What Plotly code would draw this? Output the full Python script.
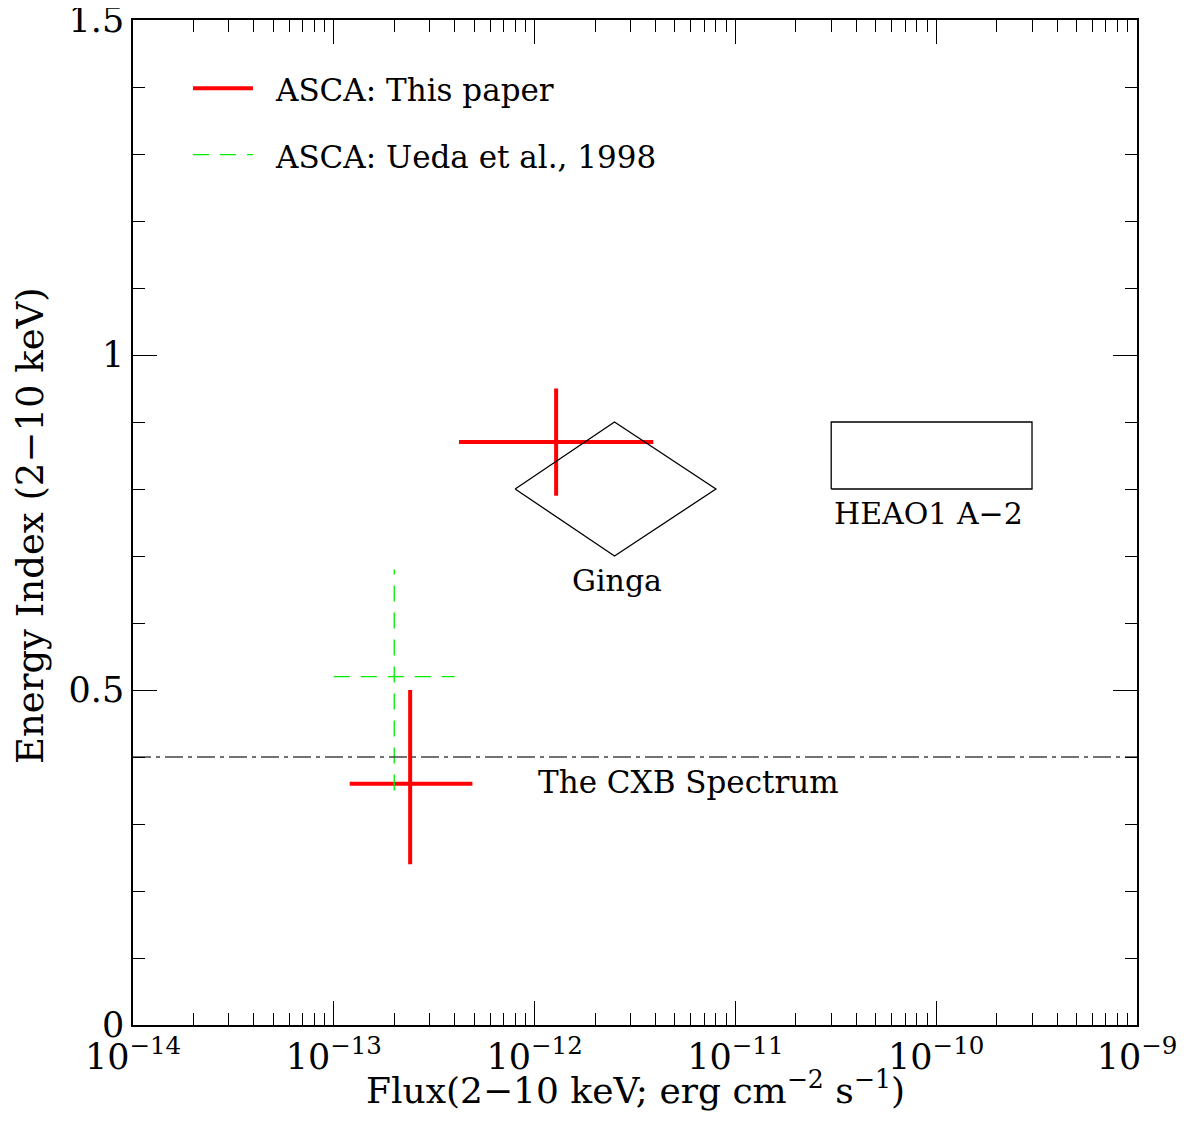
import plotly.graph_objects as go

# ---- data ----
asca_flux = [1.28e-12, 2.4e-13]
asca_flux_lo = [4.2e-13, 1.2e-13]
asca_flux_hi = [3.9e-12, 4.9e-13]
asca_index = [0.87, 0.36]
asca_index_lo = [0.79, 0.24]
asca_index_hi = [0.95, 0.50]

ueda_flux = [2.0e-13]
ueda_flux_lo = [1.0e-13]
ueda_flux_hi = [4.0e-13]
ueda_index = [0.52]
ueda_index_lo = [0.35]
ueda_index_hi = [0.68]

ginga_flux = [8e-13, 2.5e-12, 8e-12, 2.5e-12, 8e-13]
ginga_index = [0.8, 0.9, 0.8, 0.7, 0.8]

heao_flux = [3e-11, 3e-10, 3e-10, 3e-11, 3e-11]
heao_index = [0.8, 0.8, 0.9, 0.9, 0.8]

cxb_index = 0.4

x_tickvals = [1e-14, 1e-13, 1e-12, 1e-11, 1e-10, 1e-9]
x_ticktext = ["10<sup>\u221214</sup>", "10<sup>\u221213</sup>", "10<sup>\u221212</sup>",
              "10<sup>\u221211</sup>", "10<sup>\u221210</sup>", "10<sup>\u22129</sup>"]
y_tickvals = [0, 0.5, 1, 1.5]
y_ticktext = ["0", "0.5", "1", "1.5"]

FONT = "DejaVu Serif"
x_minor = [m * 10.0 ** e for e in range(-14, -9) for m in range(2, 10)]

fig = go.Figure()

# ASCA: this paper (red crosses)
for i in range(len(asca_flux)):
    fig.add_trace(go.Scatter(x=[asca_flux_lo[i], asca_flux_hi[i]], y=[asca_index[i], asca_index[i]],
                             mode="lines", line=dict(color="#ff0000", width=4), showlegend=False))
    fig.add_trace(go.Scatter(x=[asca_flux[i], asca_flux[i]], y=[asca_index_lo[i], asca_index_hi[i]],
                             mode="lines", line=dict(color="#ff0000", width=4), showlegend=False))

# Ueda et al. (green dashed cross)
for i in range(len(ueda_flux)):
    fig.add_trace(go.Scatter(x=[ueda_flux_lo[i], ueda_flux_hi[i]], y=[ueda_index[i], ueda_index[i]],
                             mode="lines", line=dict(color="#00ee00", width=1.3, dash="16px,11px"),
                             showlegend=False))
    fig.add_trace(go.Scatter(x=[ueda_flux[i], ueda_flux[i]], y=[ueda_index_lo[i], ueda_index_hi[i]],
                             mode="lines", line=dict(color="#00ee00", width=1.3, dash="16px,11px"),
                             showlegend=False))

# Ginga diamond
fig.add_trace(go.Scatter(x=ginga_flux, y=ginga_index, mode="lines",
                         line=dict(color="black", width=1.3), showlegend=False))
# HEAO1 A-2 box
fig.add_trace(go.Scatter(x=heao_flux, y=heao_index, mode="lines",
                         line=dict(color="black", width=1.3), showlegend=False))

# CXB line
fig.add_trace(go.Scatter(x=[1e-14, 1e-9], y=[cxb_index, cxb_index], mode="lines",
                         line=dict(color="#444444", width=1.5, dash="18px,5px,4px,5px"),
                         showlegend=False))

axis_common = dict(showline=True, linecolor="black", linewidth=1.5, ticks="inside",
                   tickcolor="black", tickwidth=1.2, ticklen=24, showgrid=False, zeroline=False,
                   automargin=False)

fig.update_layout(
    width=1171, height=1105,
    margin=dict(l=125, r=42, t=12, b=88),
    paper_bgcolor="white", plot_bgcolor="white",
    font=dict(family=FONT, color="black"),
    xaxis=dict(type="log", range=[-14, -9], tickmode="array", tickvals=x_tickvals, ticktext=x_ticktext,
               tickfont=dict(size=35, family=FONT), ticklabeloverflow="allow",
               minor=dict(tickmode="array", tickvals=x_minor, ticks="inside", ticklen=12,
                          tickcolor="black", tickwidth=1.2, showgrid=False),
               **axis_common),
    xaxis2=dict(type="log", range=[-14, -9], overlaying="x", side="top", tickmode="array",
                tickvals=x_tickvals, showticklabels=False,
                minor=dict(tickmode="array", tickvals=x_minor, ticks="inside", ticklen=12,
                           tickcolor="black", tickwidth=1.2, showgrid=False),
                **axis_common),
    yaxis=dict(range=[0, 1.5], tickmode="array", tickvals=y_tickvals, ticktext=y_ticktext,
               tickfont=dict(size=35, family=FONT), ticklabeloverflow="allow",
               minor=dict(dtick=0.1, tick0=0, ticks="inside", ticklen=12, tickcolor="black",
                          tickwidth=1.2, showgrid=False),
               **axis_common),
    yaxis2=dict(range=[0, 1.5], overlaying="y", side="right", tickmode="array", tickvals=y_tickvals,
                showticklabels=False,
                minor=dict(dtick=0.1, tick0=0, ticks="inside", ticklen=12, tickcolor="black",
                           tickwidth=1.2, showgrid=False),
                **axis_common),
)

# dummy trace to activate secondary axes
fig.add_trace(go.Scatter(x=[1e-14], y=[0], xaxis="x2", yaxis="y2", mode="markers",
                         marker=dict(opacity=0), showlegend=False, hoverinfo="skip"))

# Axis titles
fig.add_annotation(xref="paper", yref="paper", x=0.5, y=-0.063,
                   text="Flux(2\u221210 keV; erg cm<sup>\u22122</sup> s<sup>\u22121</sup>)",
                   showarrow=False, xanchor="center", yanchor="middle", font=dict(size=36, family=FONT))
fig.add_annotation(xref="paper", yref="paper", x=-0.1026, y=0.4975, text="Energy Index (2\u221210 keV)",
                   textangle=-90, showarrow=False, xanchor="center", yanchor="middle",
                   font=dict(size=37, family=FONT))

# Legend (drawn manually)
fig.add_shape(type="line", xref="paper", yref="paper", x0=0.0598, x1=0.1195, y0=0.932, y1=0.932,
              line=dict(color="#ff0000", width=4))
fig.add_shape(type="line", xref="paper", yref="paper", x0=0.0598, x1=0.1195, y0=0.866, y1=0.866,
              line=dict(color="#00ee00", width=1.3, dash="16px,11px"))
fig.add_annotation(xref="paper", yref="paper", x=0.139, y=0.930, text="ASCA: This paper",
                   showarrow=False, xanchor="left", yanchor="middle", font=dict(size=31, family=FONT))
fig.add_annotation(xref="paper", yref="paper", x=0.139, y=0.864, text="ASCA: Ueda et al., 1998",
                   showarrow=False, xanchor="left", yanchor="middle", font=dict(size=31, family=FONT))

# Labels
fig.add_annotation(x=-11.59, y=0.663, text="Ginga", showarrow=False, xanchor="center", yanchor="middle",
                   font=dict(size=30, family=FONT))
fig.add_annotation(x=-10.52, y=0.764, text="HEAO1 A\u22122", showarrow=False, xanchor="left",
                   yanchor="middle", font=dict(size=30, family=FONT))
fig.add_annotation(x=-11.995, y=0.363, text="The CXB Spectrum", showarrow=False, xanchor="left",
                   yanchor="middle", font=dict(size=31, family=FONT))

fig.write_html("out.html")
